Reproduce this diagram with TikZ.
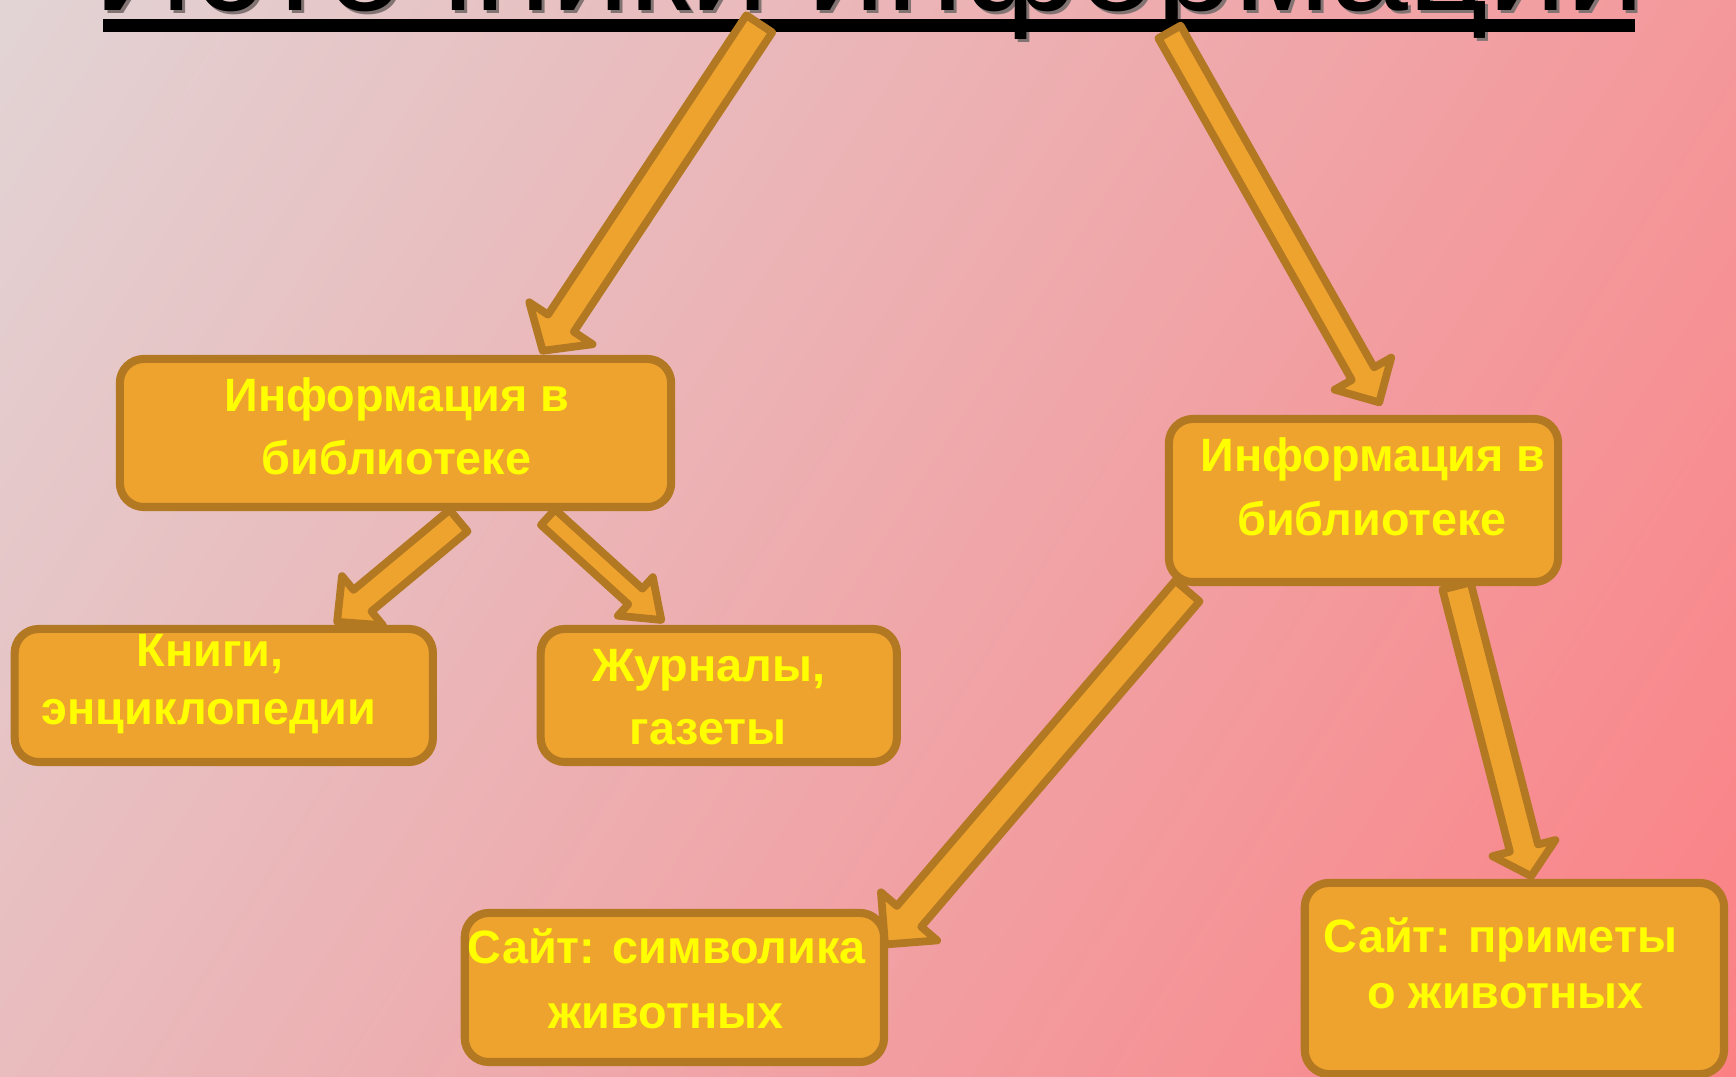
\documentclass[tikz,border=0pt]{standalone}
\usepackage{fontspec}
\setmainfont{Liberation Sans}
\usetikzlibrary{calc,shadings}
\definecolor{bgUL}{RGB}{226,212,213}
\definecolor{bgUR}{RGB}{244,152,155}
\definecolor{bgLL}{RGB}{233,188,190}
\definecolor{bgLR}{RGB}{251,128,132}
\definecolor{boxfill}{RGB}{239,163,47}
\definecolor{boxline}{RGB}{178,120,34}
\definecolor{textyellow}{RGB}{255,255,0}
\definecolor{shadowgray}{RGB}{130,115,115}
\newcommand\myblockarrow[5]{%
  \coordinate (ba-neck) at ($(#2)!#5!(#1)$);
  \draw[blockarrowstyle] ($(#1)!#3!90:(#2)$) -- ($(ba-neck)!#3!90:(#2)$) -- ($(ba-neck)!#4!90:(#2)$) -- (#2) -- ($(ba-neck)!#4!-90:(#2)$) -- ($(ba-neck)!#3!-90:(#2)$) -- ($(#1)!#3!-90:(#2)$) -- cycle;
}
\tikzset{
  boxnode/.style={draw=boxline, fill=boxfill, line width=2.3pt, rounded corners=0.24cm, inner sep=0pt},
  blockarrowstyle/.style={draw=boxline, fill=boxfill, line width=2.2pt, line join=round},
  boxtext/.style={text=textyellow, font=\bfseries\fontsize{13.3}{16}\selectfont, anchor=base, inner sep=0pt},
  titletext/.style={font=\fontsize{39.8}{48}\selectfont, anchor=base, inner sep=0pt}
}
\begin{document}
\begin{tikzpicture}[x=0.01cm, y=-0.01cm]
\useasboundingbox (0,0) rectangle (1736,1077);
\clip (0,0) rectangle (1736,1077);
\shade[upper left=bgUL, upper right=bgUR, lower left=bgLL, lower right=bgLR] (0,0) rectangle (1736,1077);
% title
\node[titletext, text=shadowgray] (titleshadow) at (872,14) {Источники информации};
\node[titletext, text=black] (title) at (869,11) {Источники информации};
\fill[black] (103,19) rectangle (1635,32);
% boxes
\node[boxnode, minimum width=5.51cm, minimum height=1.48cm] (lib1) at (395.5,433) {};
\node[boxnode, minimum width=4.18cm, minimum height=1.33cm] (books) at (223.8,695.5) {};
\node[boxnode, minimum width=3.56cm, minimum height=1.33cm] (mags) at (718.8,695.5) {};
\node[boxnode, minimum width=3.89cm, minimum height=1.63cm] (lib2) at (1363.5,500.5) {};
\node[boxnode, minimum width=4.19cm, minimum height=1.49cm] (site1) at (674.4,987.5) {};
\node[boxnode, minimum width=4.19cm, minimum height=1.91cm] (site2) at (1514.4,978.5) {};
% arrow endpoints
\coordinate (aS) at (759.3,23.8);   \coordinate (aE) at (542.7,350.8);
\coordinate (bS) at (1169.5,32);    \coordinate (bE) at (1379.2,402.4);
\coordinate (cS) at (458.6,520.6);  \coordinate (cE) at (337.1,621.8);
\coordinate (dS) at (548,517.2);    \coordinate (dE) at (661.3,620);
\coordinate (eS) at (1187.4,591);   \coordinate (eE) at (885,944.5);
\coordinate (fS) at (1456.5,586);   \coordinate (fE) at (1531.2,876.2);
\myblockarrow{aS}{aE}{0.155cm}{0.38cm}{0.33cm}
\myblockarrow{bS}{bE}{0.128cm}{0.325cm}{0.33cm}
\myblockarrow{cS}{cE}{0.14cm}{0.32cm}{0.33cm}
\myblockarrow{dS}{dE}{0.105cm}{0.26cm}{0.35cm}
\myblockarrow{eS}{eE}{0.16cm}{0.37cm}{0.37cm}
\myblockarrow{fS}{fE}{0.145cm}{0.325cm}{0.29cm}
% texts
\node[boxtext] (lib1a) at (397,412) {Информация в};
\node[boxtext] (lib1b) at (396.5,475) {библиотеке};
\node[boxtext] (booksa) at (210,667) {Книги,};
\node[boxtext] (booksb) at (209,725) {энциклопедии};
\node[boxtext] (magsa) at (708.6,682) {Журналы,};
\node[boxtext] (magsb) at (708,745) {газеты};
\node[boxtext] (lib2a) at (1373,472) {Информация в};
\node[boxtext] (lib2b) at (1372,536) {библиотеке};
\node[boxtext] (site1a) at (666.7,964) {Сайт: символика};
\node[boxtext] (site1b) at (666,1029) {животных};
\node[boxtext] (site2a) at (1500.5,952.7) {Сайт: приметы};
\node[boxtext] (site2b) at (1505.5,1009) {о животных};
\end{tikzpicture}
\end{document}
